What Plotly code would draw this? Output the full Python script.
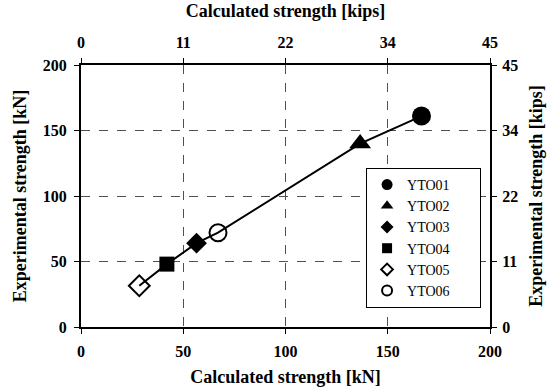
import plotly.graph_objects as go

# Data (kN)
names = ["YTO01", "YTO02", "YTO03", "YTO04", "YTO05", "YTO06"]
calc_kN = [166.5, 136.5, 56.5, 42.0, 28.5, 67.0]
exp_kN = [161.0, 140.0, 64.0, 48.0, 31.5, 72.0]
symbols = ["circle", "triangle-up", "diamond", "square", "diamond-open", "circle-open"]
sizes = [19, 19, 16, 15, 16, 17]
legend_sizes = [11, 11, 10, 10, 9, 10]

kN_ticks = [0, 50, 100, 150, 200]
kN_ticklabels = ["0", "50", "100", "150", "200"]
kips_ticklabels = ["0", "11", "22", "34", "45"]

FONT = "Liberation Serif"
PAD = "\u00a0" * 7


def bold(labels):
    return ["<b>" + t + "</b>" for t in labels]


fig = go.Figure()

# connecting line (sorted by calculated strength)
order = sorted(range(len(calc_kN)), key=lambda i: calc_kN[i])
fig.add_trace(go.Scatter(
    x=[calc_kN[i] for i in order], y=[exp_kN[i] for i in order],
    mode="lines", line=dict(color="black", width=2), showlegend=False, hoverinfo="skip"))

for n, xv, yv, s, sz, lsz in zip(names, calc_kN, exp_kN, symbols, sizes, legend_sizes):
    lw = 2 if "open" in s else 0
    fig.add_trace(go.Scatter(
        x=[xv], y=[yv], mode="markers", name=n, showlegend=False,
        marker=dict(symbol=s, size=sz, color="black", line=dict(color="black", width=lw))))
    fig.add_trace(go.Scatter(
        x=[None], y=[None], mode="markers", name=n + PAD, showlegend=True,
        marker=dict(symbol=s, size=lsz, color="black", line=dict(color="black", width=lw))))

fig.add_trace(go.Scatter(x=[None], y=[None], xaxis="x2", yaxis="y2", showlegend=False,
                         hoverinfo="skip"))

axis_common = dict(
    range=[0, 200], tickvals=kN_ticks, showline=True, linecolor="black", linewidth=2,
    ticks="outside", ticklen=5, tickcolor="black", tickwidth=1,
    tickfont=dict(family=FONT, size=16, color="black"),
    zeroline=False, fixedrange=True, automargin=False,
)
title_font = dict(family=FONT, size=18, color="black")

fig.update_layout(
    width=551, height=390,
    margin=dict(l=81, r=61, t=65, b=63),
    paper_bgcolor="white", plot_bgcolor="white",
    font=dict(family=FONT, color="black"),
    xaxis=dict(**axis_common, showgrid=True, gridcolor="#505050", griddash="dash", gridwidth=1,
               ticktext=bold(kN_ticklabels), ticklabelstandoff=4,
               title=dict(text="<b>Calculated strength [kN]</b>", font=title_font, standoff=11)),
    yaxis=dict(**axis_common, showgrid=True, gridcolor="#505050", griddash="dash", gridwidth=1,
               ticktext=bold(kN_ticklabels), ticklabelstandoff=4,
               title=dict(text="<b>Experimental strength [kN]</b>", font=title_font, standoff=11)),
    xaxis2=dict(**axis_common, overlaying="x", side="top", showgrid=False,
                ticktext=bold(kips_ticklabels), ticklabelstandoff=4,
                title=dict(text="<b>Calculated strength [kips]</b>", font=title_font, standoff=11)),
    yaxis2=dict(**axis_common, overlaying="y", side="right", showgrid=False,
                ticktext=bold(kips_ticklabels), ticklabelstandoff=2,
                title=dict(text="<b>Experimental strength [kips]</b>", font=title_font, standoff=12)),
    legend=dict(x=0.697, y=0.0725, xanchor="left", yanchor="bottom",
                bgcolor="white", bordercolor="black", borderwidth=1,
                font=dict(family=FONT, size=14, color="black"),
                tracegroupgap=0, itemwidth=30),
    showlegend=True,
)

fig.write_html("out.html")
